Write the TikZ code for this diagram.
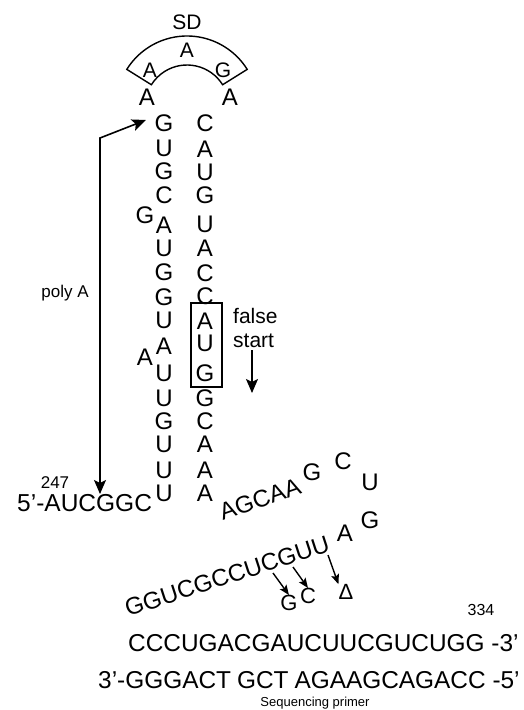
\documentclass[tikz,border=0pt]{standalone}
\usepackage{fontspec}
\setmainfont{Liberation Sans}
\usetikzlibrary{arrows.meta,calc}
\begin{document}
\begin{tikzpicture}[x=1pt,y=-1pt,
  nt/.style={inner sep=0pt, font=\fontsize{24}{24}\selectfont},
  lp/.style={inner sep=0pt, font=\fontsize{21}{21}\selectfont},
  sm/.style={inner sep=0pt, font=\fontsize{17}{17}\selectfont},
  arr/.style={line width=1.6pt, -{Stealth[length=14pt,width=12pt,inset=3pt]}},
  sarr/.style={line width=1.4pt, -{Stealth[length=10pt,width=8pt,inset=2pt]}}]
\useasboundingbox (0,0) rectangle (523,710);

% stem, left strand
\foreach \l/\y [count=\i] in {G/123,U/148,G/171,C/195,A/225,U/248,G/272,G/297,U/320,A/346,U/373,U/398,G/421,U/444,U/470,U/493}
  \node[nt] (L\i) at (164,\y) {\l};
% stem, right strand
\foreach \l/\y [count=\i] in {C/123,A/149,U/172,G/195,U/224,A/248,C/273,C/296,A/321,U/343,G/373,G/398,C/421,A/444,A/470,A/493}
  \node[nt] (R\i) at (205,\y) {\l};
% bulges
\node[nt] (bG) at (145,215) {G};
\node[nt] (bA) at (145,357) {A};

% loop
\node[nt] (lA1) at (147,97) {A};
\node[nt] (lA2) at (230,97) {A};
\coordinate (sdc) at (187,107);
\draw[line width=1.4pt] ($(sdc)+(-148:71)$) arc[start angle=-148,end angle=-32,radius=71]
  -- ($(sdc)+(-32:42)$) arc[start angle=-32,end angle=-148,radius=42] -- cycle;
\node[lp] (sd1) at (150,70) {A};
\node[lp] (sd2) at (187,50) {A};
\node[lp] (sd3) at (223,70) {G};
\node[lp] (sd) at (187,22) {SD};

% false start box
\node[draw, line width=1.2pt, minimum width=31pt, minimum height=84pt, inner sep=0pt] (box) at (206.5,345) {};
\node[lp, anchor=base west] (fs1) at (233,323) {false};
\node[lp, anchor=base west] (fs2) at (233,347) {start};
\coordinate (fsa) at (252,350);
\coordinate (fsb) at (252,393);
\draw[arr] (fsa) -- (fsb);

% poly A
\node[sm] (polyA) at (65,293) {poly A};
\coordinate (pacorner) at (100,138);
\coordinate (patip) at (146,120);
\coordinate (pabot) at (100,494);
\draw[line width=1.6pt, {Stealth[length=14pt,width=12pt,inset=3pt]}-{Stealth[length=14pt,width=12pt,inset=3pt]}] (patip) -- (pacorner) -- (pabot);

% 5' end
\node[sm] (n247) at (55,483) {247};
\node[nt, anchor=west, font=\fontsize{24.5}{24.5}\selectfont] (five) at (17,503) {5'-AUCGGC};

% 3' tail
\node[nt, rotate=19] (agcaa) at (260,499) {AGCAA};
\node[nt] (t1) at (312,472) {G};
\node[nt] (t2) at (343,461) {C};
\node[nt] (t3) at (370,482) {U};
\node[nt] (t4) at (370,520) {G};
\node[nt] (t5) at (345,533) {A};
\node[nt, rotate=18] (gguc) at (227,576) {GGUCGCCUCGUU};

% deletions / substitutions
\coordinate (a1s) at (273,573);
\coordinate (a2s) at (293,567);
\coordinate (a3s) at (328,555);
\node[nt, font=\fontsize{22}{22}\selectfont] (subG) at (289,603) {G};
\node[nt, font=\fontsize{22}{22}\selectfont] (subC) at (308,596) {C};
\node[nt, font=\fontsize{22}{22}\selectfont] (del) at (346,592) {Δ};
\draw[sarr] (a1s) -- (subG.north);
\draw[sarr] (a2s) -- (subC.north);
\draw[sarr] (a3s) -- (del.north west);

% bottom sequences
\node[sm, font=\fontsize{16}{16}\selectfont] (n334) at (481,610) {334};
\node[nt, anchor=west, font=\fontsize{24.4}{24.4}\selectfont] (seq) at (128,643) {CCCUGACGAUCUUCGUCUGG -3'};
\node[nt, anchor=west, font=\fontsize{24.4}{24.4}\selectfont] (primer) at (98,680) {3'-GGGACT\hspace{6pt}GCT\hspace{6pt}AGAAGCAGACC -5'};
\node[inner sep=0pt, anchor=base, font=\fontsize{13}{13}\selectfont] (plabel) at (315,706) {Sequencing primer};
\end{tikzpicture}
\end{document}
